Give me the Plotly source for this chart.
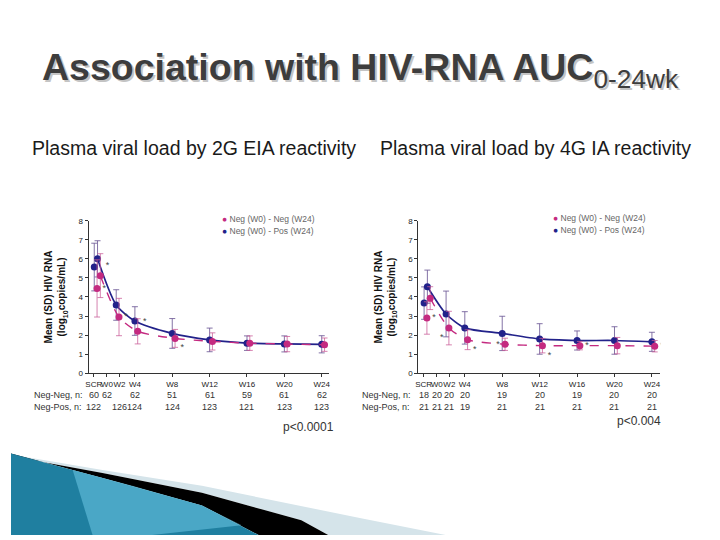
import plotly.graph_objects as go

# time points and axis labels
weeks = ["SCR", "W0", "W2", "W4", "W8", "W12", "W16", "W20", "W24"]
week_num = [-0.35, 0, 2, 4, 8, 12, 16, 20, 24]
tick_pos = [-0.4, 1.0, 2.35, 4, 8, 12, 16, 20, 24]

# 2G EIA panel
left_pos = [5.57, 6.0, 3.58, 2.74, 2.09, 1.75, 1.58, 1.54, 1.52]
left_pos_sd = [1.25, 0.95, 0.8, 0.75, 0.78, 0.62, 0.38, 0.42, 0.45]
left_neg = [4.45, 5.12, 2.95, 2.2, 1.83, 1.67, 1.58, 1.53, 1.5]
left_neg_sd = [1.5, 1.15, 0.98, 0.66, 0.47, 0.45, 0.38, 0.4, 0.35]
left_stars = ["*", "*", "*", "*", "*", " ", " ", " ", " "]
left_n_neg = ["60", "62", "", "62", "51", "61", "59", "61", "62"]
left_n_pos = ["122", "", "126", "124", "124", "123", "121", "123", "123"]

# 4G IA panel
right_pos = [3.68, 4.54, 3.11, 2.38, 2.09, 1.8, 1.72, 1.72, 1.65]
right_pos_sd = [0.85, 0.87, 1.2, 0.85, 0.9, 0.8, 0.5, 0.72, 0.5]
right_neg = [2.9, 3.94, 2.37, 1.76, 1.52, 1.45, 1.45, 1.45, 1.42]
right_neg_sd = [0.85, 0.6, 0.88, 0.52, 0.32, 0.38, 0.22, 0.43, 0.3]
right_stars = ["*", " ", "*", "*", "*", "*", "*", " ", "*"]
right_n_neg = ["18", "20", "20", "20", "19", "20", "19", "20", "20"]
right_n_pos = ["21", "21", "21", "19", "21", "21", "21", "21", "21"]

legend_labels = ["Neg (W0) - Neg (W24)", "Neg (W0) - Pos (W24)"]
p_values = ["p<0.0001", "p<0.004"]

BLUE = "#22228a"
MAG = "#c42a80"
FONT = "Liberation Sans"

# the page adds an 8px body margin, so the figure is a bit smaller and
# page pixel positions are shifted into figure (paper) coordinates
OFF = 8
W, H = 720 - OFF, 540 - OFF


def px(x, y):
    return (x - OFF) / W, 1 - (y - OFF) / H


fig = go.Figure()

panels = [
    ("x", "y", left_pos, left_pos_sd, left_neg, left_neg_sd, left_stars,
     ["middle right", "top right", "middle right", "top right", "bottom right",
      "middle right", "middle right", "middle right", "middle right"]),
    ("x2", "y2", right_pos, right_pos_sd, right_neg, right_neg_sd, right_stars,
     ["middle right", "middle right", "bottom left", "bottom right", "middle left",
      "bottom right", "middle right", "middle right", "middle right"]),
]

for xa, ya, pos, pos_sd, neg, neg_sd, stars, star_pos in panels:
    # Neg-Pos (blue, solid)
    fig.add_trace(go.Scatter(x=week_num[1:], y=pos[1:], mode="lines",
                             line=dict(color=BLUE, width=1.7, shape="spline", smoothing=0.7),
                             xaxis=xa, yaxis=ya, showlegend=False, hoverinfo="skip"))
    fig.add_trace(go.Scatter(x=week_num, y=pos, mode="markers",
                             marker=dict(color=BLUE, size=7),
                             error_y=dict(type="data", array=pos_sd, color="rgba(110,90,150,0.85)",
                                          thickness=1, width=3),
                             xaxis=xa, yaxis=ya, showlegend=False))
    # Neg-Neg (magenta, dashed)
    neg_x = [w + 0.3 for w in week_num]
    fig.add_trace(go.Scatter(x=neg_x[1:], y=neg[1:], mode="lines",
                             line=dict(color=MAG, width=1.4, dash="dash", shape="spline", smoothing=0.7),
                             xaxis=xa, yaxis=ya, showlegend=False, hoverinfo="skip"))
    fig.add_trace(go.Scatter(x=neg_x, y=neg, mode="markers+text",
                             marker=dict(color=MAG, size=7),
                             text=stars, textposition=star_pos,
                             textfont=dict(size=9, color="#444", family=FONT),
                             error_y=dict(type="data", array=neg_sd, color="rgba(200,90,150,0.75)",
                                          thickness=1, width=3),
                             xaxis=xa, yaxis=ya, showlegend=False))

axis_common = dict(showgrid=False, zeroline=False, showline=True, linecolor="#333", linewidth=1,
                   ticks="outside", ticklen=3, tickcolor="#333",
                   tickfont=dict(size=8, color="#222", family=FONT))
ytitle = dict(text="<b>Mean (SD) HIV RNA<br>(log<sub>10</sub>copies/mL)</b>",
              font=dict(size=10, color="#111", family=FONT), standoff=10)

y_dom = [px(0, 375.5)[1], px(0, 220.3)[1]]
fig.update_layout(
    width=W, height=H, margin=dict(l=0, r=0, t=0, b=0),
    paper_bgcolor="white", plot_bgcolor="white",
    xaxis=dict(domain=[px(86, 0)[0], px(328, 0)[0]], range=[-0.96, 24.8], tickvals=tick_pos,
               ticktext=weeks, tickangle=0, anchor="y", **axis_common),
    yaxis=dict(domain=y_dom, range=[0, 8], dtick=1, anchor="x", title=ytitle, **axis_common),
    xaxis2=dict(domain=[px(417.7, 0)[0], px(661, 0)[0]], range=[-0.96, 24.9], tickvals=tick_pos,
                ticktext=weeks, tickangle=0, anchor="y2", **axis_common),
    yaxis2=dict(domain=y_dom, range=[0, 8], dtick=1, anchor="x2", title=ytitle, **axis_common),
)

ann = []
# title with a soft shadow
title_txt = "<b>Association with HIV-RNA AUC</b><sub>0-24wk</sub>"
for dx, col in [(2, "#c4c4c4"), (0, "#3d3d3d")]:
    x, y = px(37 + dx, 67 + dx)
    ann.append(dict(text=title_txt, x=x, y=y, xref="paper", yref="paper", xanchor="left",
                    yanchor="middle", showarrow=False, font=dict(size=37.5, color=col, family=FONT)))

for txt, cx in [("Plasma viral load by 2G EIA reactivity", 192),
                ("Plasma viral load by 4G IA reactivity", 535)]:
    x, y = px(cx, 146)
    ann.append(dict(text=txt, x=x, y=y, xref="paper", yref="paper", xanchor="center",
                    yanchor="middle", showarrow=False,
                    font=dict(size=19.5, color="#1a1a1a", family=FONT)))

# legends
for lx, ly in [(218, 219), (551, 218)]:
    for i, (lab, col) in enumerate(zip(legend_labels, [MAG, BLUE])):
        x, y = px(lx, ly + 12 * i)
        ann.append(dict(text=f"<span style='color:{col}'>●</span> {lab}", x=x, y=y,
                        xref="paper", yref="paper", xanchor="left", yanchor="middle",
                        showarrow=False, font=dict(size=8.5, color="#666", family=FONT)))

# n at risk rows
for xa, rx, n_neg, n_pos in [("x", 29, left_n_neg, left_n_pos), ("x2", 359, right_n_neg, right_n_pos)]:
    for row, (lab, vals) in enumerate([("Neg-Neg, n:", n_neg), ("Neg-Pos, n:", n_pos)]):
        x, y = px(rx, 398 + 12 * row)
        ann.append(dict(text=lab, x=x, y=y, xref="paper", yref="paper", xanchor="left",
                        yanchor="middle", showarrow=False, font=dict(size=9, color="#333", family=FONT)))
        for tp, v in zip(tick_pos, vals):
            if v:
                ann.append(dict(text=v, x=tp, y=y, xref=xa, yref="paper", xanchor="center",
                                yanchor="middle", showarrow=False,
                                font=dict(size=9, color="#333", family=FONT)))

for txt, cx, cy in [(p_values[0], 307, 430), (p_values[1], 640, 424)]:
    x, y = px(cx, cy)
    ann.append(dict(text=txt, x=x, y=y, xref="paper", yref="paper", xanchor="center",
                    yanchor="middle", showarrow=False, font=dict(size=12, color="#333", family=FONT)))

fig.update_layout(annotations=ann)


# decorative swoosh in the bottom-left corner
def path(points):
    pts = [px(a, b) for a, b in points]
    return "M " + " L ".join(f"{a:.4f},{b:.4f}" for a, b in pts) + " Z"


shapes = [
    dict(path=path([(8, 458), (100, 474), (200, 490), (360, 523), (445, 540), (327, 540),
                    (300, 525), (200, 497), (100, 477), (8, 460)]), fillcolor="#d5e4ea"),
    dict(path=path([(8, 460), (100, 477), (200, 497), (300, 525), (327, 540), (257, 540),
                    (200, 510), (100, 482), (8, 457)]), fillcolor="#000000"),
    dict(path=path([(8, 457), (100, 482), (200, 510), (257, 540), (8, 540)]), fillcolor="#1f7fa0"),
    dict(path=path([(70, 474), (130, 490), (200, 510), (240, 530), (150, 540), (90, 540)]),
         fillcolor="rgba(110,200,230,0.55)"),
]
for s in shapes:
    s.update(type="path", xref="paper", yref="paper", line=dict(width=0), layer="below")
fig.update_layout(shapes=shapes)

fig.write_html("out.html")
